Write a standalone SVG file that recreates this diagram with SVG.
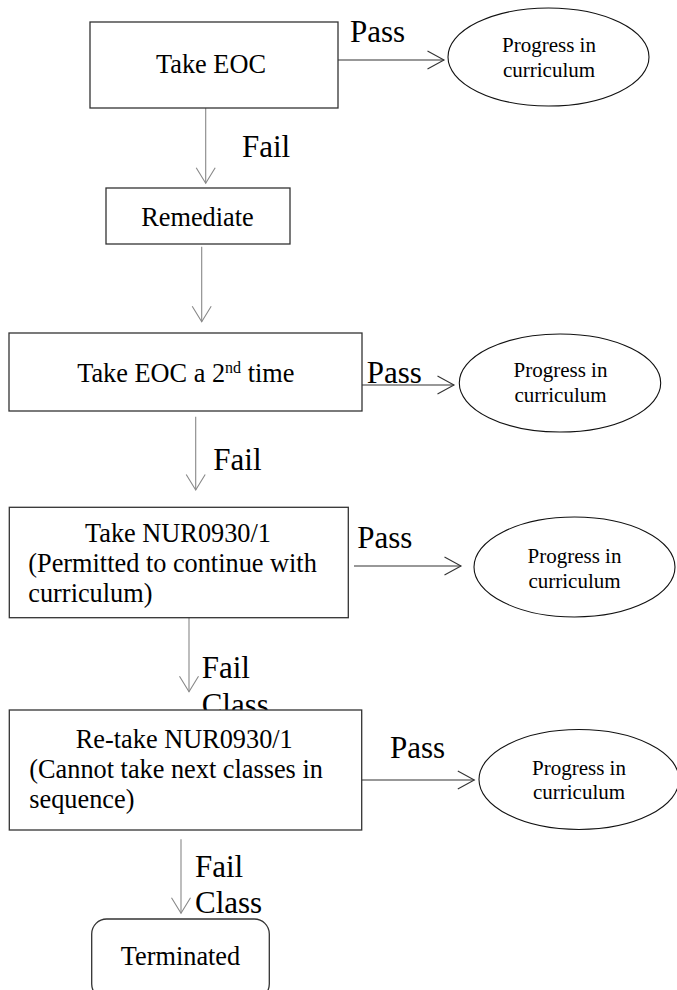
<svg xmlns="http://www.w3.org/2000/svg" width="677" height="990" viewBox="0 0 677 990">
<style>
text{font-family:'Liberation Serif',Tinos,'Times New Roman',Times,'DejaVu Serif',serif;fill:#000}
.box{fill:#fff;stroke:#333;stroke-width:1.3}
.ell{fill:#fff;stroke:#111;stroke-width:1.1}
.bt{font-size:26.3px}
.et{font-size:21px;text-anchor:middle}
.lbl{font-size:31px}
.v{stroke:#888;stroke-width:1.1;fill:none}
.h{stroke:#333;stroke-width:1.1;fill:none}
</style>
<defs>
<marker id="cv" markerUnits="userSpaceOnUse" viewBox="-18 -12 20 24" markerWidth="20" markerHeight="24" refX="0" refY="0" orient="auto">
<path d="M-15.5,-9.5 L0,0 L-15.5,9.5" fill="none" stroke="#888" stroke-width="1.1"/>
</marker>
<marker id="ch" markerUnits="userSpaceOnUse" viewBox="-18 -12 20 24" markerWidth="20" markerHeight="24" refX="0" refY="0" orient="auto">
<path d="M-16.5,-9 L0,0 L-16.5,9" fill="none" stroke="#333" stroke-width="1.1"/>
</marker>
</defs>
<g id="connectors" font-family="Liberation Serif, serif">
<line class="h" x1="338" y1="60" x2="444" y2="60" marker-end="url(#ch)"/>
<line class="v" x1="205.7" y1="108" x2="205.7" y2="183.3" marker-end="url(#cv)"/>
<line class="v" x1="201.7" y1="246.7" x2="201.7" y2="321.7" marker-end="url(#cv)"/>
<line class="h" x1="362" y1="385" x2="454" y2="385" marker-end="url(#ch)"/>
<line class="v" x1="195.7" y1="416.7" x2="195.7" y2="490" marker-end="url(#cv)"/>
<line class="h" x1="354" y1="566" x2="461" y2="566" marker-end="url(#ch)"/>
<line class="v" x1="189" y1="617.7" x2="189" y2="691.7" marker-end="url(#cv)"/>
<line class="h" x1="361.7" y1="780" x2="474.3" y2="780" marker-end="url(#ch)"/>
<line class="v" x1="181" y1="839.3" x2="181" y2="913.3" marker-end="url(#cv)"/>
<text class="lbl" x="350" y="42">Pass</text>
<text class="lbl" x="242" y="157">Fail</text>
<text class="lbl" x="366.7" y="383">Pass</text>
<text class="lbl" x="213.3" y="470">Fail</text>
<text class="lbl" x="357.3" y="548">Pass</text>
<text class="lbl" x="201.7" y="678.3">Fail</text>
<text class="lbl" x="201.7" y="715">Class</text>
<text class="lbl" x="390" y="758.3">Pass</text>
<text class="lbl" x="195" y="876.7">Fail</text>
<text class="lbl" x="195" y="913.3">Class</text>
</g>
<g id="take-eoc">
<rect class="box" x="90" y="22" width="248" height="86"/>
<text class="bt" x="211" y="73" text-anchor="middle">Take EOC</text>
</g>
<g id="progress-1">
<ellipse class="ell" cx="548.5" cy="57" rx="100.5" ry="49"/>
<text class="et" x="549" y="51.7">Progress in</text>
<text class="et" x="549" y="76.7">curriculum</text>
</g>
<g id="remediate">
<rect class="box" x="106" y="188" width="184" height="56"/>
<text class="bt" x="197.5" y="225.7" text-anchor="middle">Remediate</text>
</g>
<g id="take-eoc-2">
<rect class="box" x="9" y="333" width="353" height="78"/>
<text class="bt" x="185.8" y="381.7" text-anchor="middle">Take EOC a 2<tspan font-size="16" dy="-9">nd</tspan><tspan dy="9"> time</tspan></text>
</g>
<g id="progress-2">
<ellipse class="ell" cx="560" cy="383" rx="100.7" ry="49"/>
<text class="et" x="560.5" y="376.7">Progress in</text>
<text class="et" x="560.5" y="401.7">curriculum</text>
</g>
<g id="take-nur">
<rect class="box" x="9.3" y="507.3" width="339" height="110.4"/>
<text class="bt" x="178" y="542.3" text-anchor="middle">Take NUR0930/1</text>
<text class="bt" x="28.3" y="571.7">(Permitted to continue with</text>
<text class="bt" x="28.3" y="601.7">curriculum)</text>
</g>
<g id="progress-3">
<ellipse class="ell" cx="574.5" cy="567" rx="100.5" ry="50"/>
<text class="et" x="574.5" y="563.3">Progress in</text>
<text class="et" x="574.5" y="588.3">curriculum</text>
</g>
<g id="retake-nur">
<rect class="box" x="9.3" y="710" width="352.4" height="120"/>
<text class="bt" x="184.3" y="747.7" text-anchor="middle">Re-take NUR0930/1</text>
<text class="bt" x="29.3" y="778.3">(Cannot take next classes in</text>
<text class="bt" x="29.3" y="808.3">sequence)</text>
</g>
<g id="progress-4">
<ellipse class="ell" cx="579" cy="779.5" rx="100" ry="50"/>
<text class="et" x="579" y="775">Progress in</text>
<text class="et" x="579" y="799">curriculum</text>
</g>
<g id="terminated">
<rect class="box" x="91.7" y="919" width="177.6" height="80" rx="15" ry="15"/>
<text class="bt" x="180.5" y="965" text-anchor="middle">Terminated</text>
</g>
</svg>
